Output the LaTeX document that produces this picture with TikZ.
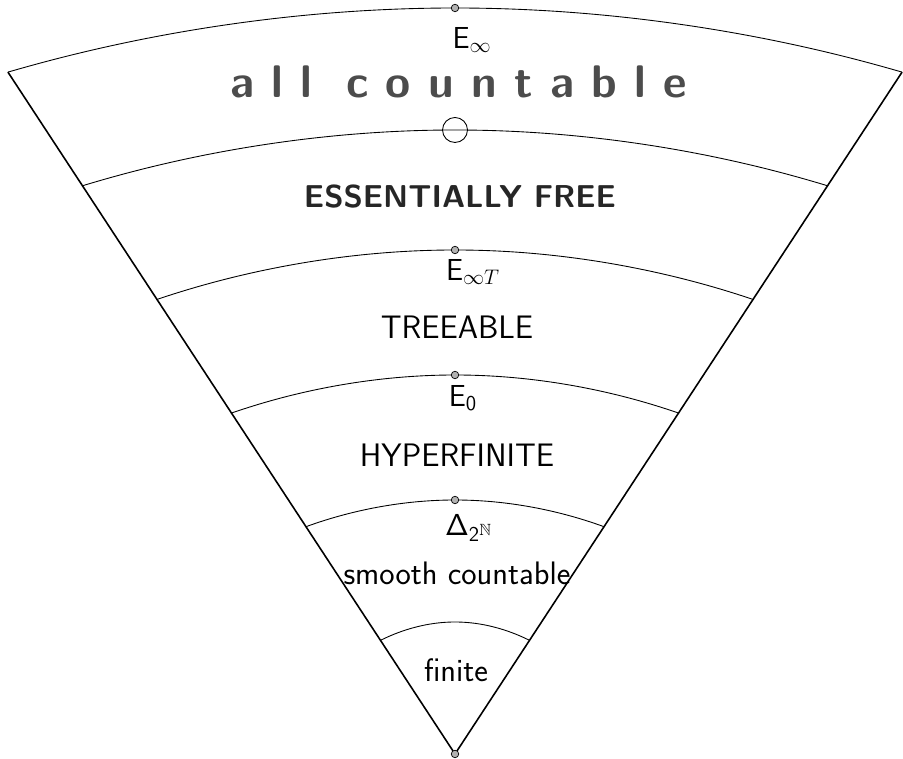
\documentclass[tikz,border=0pt]{standalone}
\usepackage{amsmath,amssymb}
\usepackage[no-math]{fontspec}
\newfontfamily\spacedsans[LetterSpace=38]{lmsans10-bold.otf}
\usepackage{tikz}
\usetikzlibrary{calc}

\begin{document}
\begin{tikzpicture}[
  lbl/.style={font=\sffamily\fontsize{18.5}{22}\selectfont,inner sep=0pt},
  big/.style={font=\sffamily\bfseries\fontsize{18}{22}\selectfont,inner sep=0pt},
  pt/.style={circle,draw,fill=gray!60,minimum size=0.15cm,inner sep=0pt},
  side/.style={line width=0.9pt},
  rim/.style={line width=0.5pt}]
\useasboundingbox (0,0) rectangle (18.06,15.18);
\coordinate (apex) at (9.10,0.10);
% levels of the fan
\foreach \k/\h in {1/2.64,2/5.08,3/7.58,4/10.08,5/12.48,6/14.92}{
  \coordinate (L\k) at ($(apex)+(123.25:{\k*2.718})$);
  \coordinate (R\k) at ($(apex)+(56.75:{\k*2.718})$);
  \coordinate (P\k) at ($(apex)+(0,\h)$);
  \draw[rim] (L\k) parabola bend (P\k) (R\k);
}
\draw[side] (L6) -- (apex) -- (R6);
% marks on the rims
\foreach \k in {2,3,4,6}{
  \node[pt] (m\k) at (P\k) {};
}
\node[pt] (m0) at (apex) {};
\node[circle,draw,line width=0.5pt,minimum size=0.5cm,inner sep=0pt] (m5) at (P5) {};
% labels
\node[lbl] (einf) at (9.44,14.38) {$\mathsf{E}_\infty$};
\node[inner sep=0pt,font=\spacedsans\fontsize{26}{30}\selectfont,text=black!70] (allc) at (9.17,13.54) {all countable};
\node[big,text=black!85] (free) at (9.20,11.24) {ESSENTIALLY FREE};
\node[lbl] (einft) at (9.46,9.74) {$\mathsf{E}_{\infty T}$};
\node[lbl] (tree) at (9.14,8.64) {TREEABLE};
\node[lbl] (ezero) at (9.26,7.22) {$\mathsf{E}_\mathsf{0}$};
\node[lbl] (hyp) at (9.14,6.08) {HYPERFINITE};
\node[lbl] (delta) at (9.38,4.62) {$\mathsf{\Delta}_{\mathsf{2}^{\mathbb{N}}}$};
\node[lbl] (smooth) at (9.14,3.72) {smooth countable};
\node[lbl] (fin) at (9.12,1.78) {finite};
\end{tikzpicture}
\end{document}
